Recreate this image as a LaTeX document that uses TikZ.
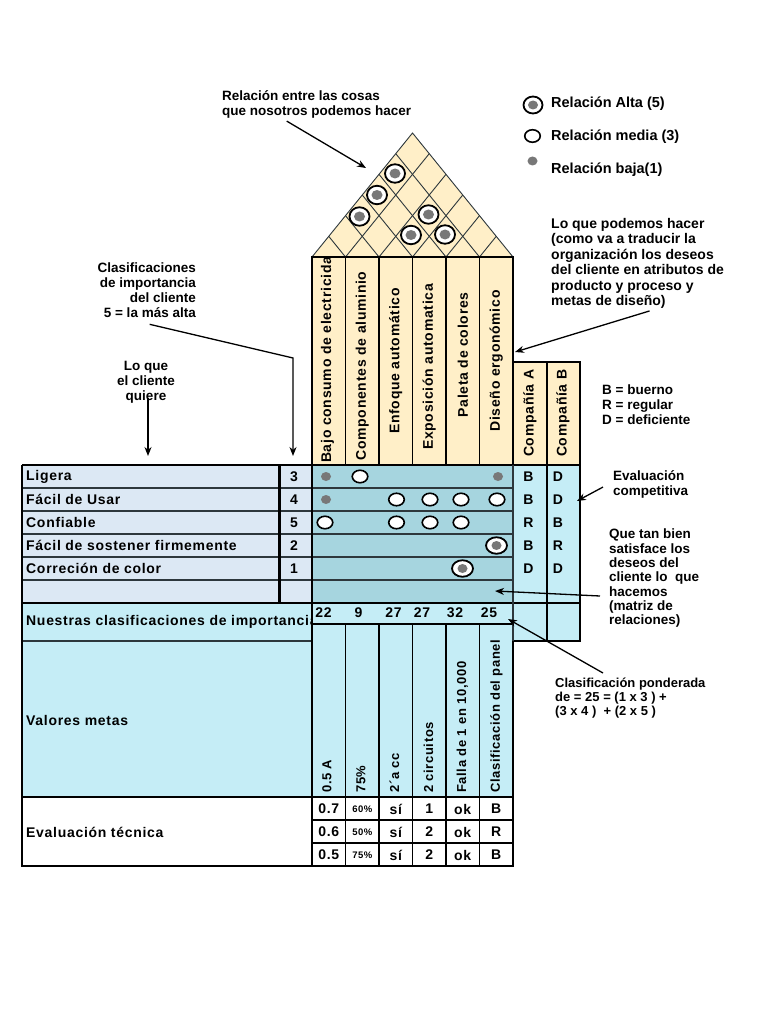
\documentclass[tikz,border=0pt]{standalone}
\usepackage{fontspec}
\setmainfont{Liberation Sans}
\newfontfamily\tabf[LetterSpace=5]{Liberation Sans}
\usetikzlibrary{shapes.geometric,arrows.meta}
\definecolor{roofc}{RGB}{255,239,200}
\definecolor{mtxc}{RGB}{166,213,223}
\definecolor{cyanc}{RGB}{197,237,246}
\definecolor{labc}{RGB}{220,232,244}
\definecolor{dotgray}{RGB}{120,120,120}
\definecolor{linec}{RGB}{45,55,60}
\begin{document}
\begin{tikzpicture}[x=1pt,y=-1pt,
  ann/.style={font=\bfseries\fontsize{13.5}{15}\selectfont, align=left, inner sep=0pt},
  leg/.style={font=\bfseries\fontsize{14.5}{16}\selectfont, inner sep=0pt, anchor=west},
  tab/.style={font=\tabf\bfseries\fontsize{14}{16}\selectfont, inner sep=0pt},
  vtab/.style={font=\tabf\bfseries\fontsize{13}{15}\selectfont, inner sep=0pt, rotate=90, anchor=west},
  small/.style={font=\tabf\bfseries\fontsize{9.5}{11}\selectfont, inner sep=0pt},
  roofline/.style={draw=linec, line width=0.9pt},
  grid/.style={draw=linec, line width=1.2pt},
  bold/.style={draw=black, line width=1.8pt},
  arr/.style={-{Stealth[length=9pt,width=7pt]}, line width=1.3pt, black},
  media/.style={ellipse, draw=black, line width=1.6pt, fill=white, minimum width=15.5pt, minimum height=12.5pt, inner sep=0pt},
  baja/.style={ellipse, fill=dotgray, minimum width=10pt, minimum height=9pt, inner sep=0pt},
  alta/.style={ellipse, draw=black, line width=1.8pt, fill=white, minimum width=21pt, minimum height=16.5pt, inner sep=0pt,
    path picture={\fill[dotgray] (path picture bounding box.center) ellipse [x radius=5pt, y radius=4.5pt];}},
  altaroof/.style={alta, minimum width=20pt, minimum height=18.5pt,
    path picture={\fill[dotgray] (path picture bounding box.center) ellipse [x radius=5.5pt, y radius=5pt];}},
]
\useasboundingbox (0,0) rectangle (768,1024);

% ---------------- roof ----------------
\fill[roofc] (312,257) -- (412.5,133) -- (513,257) -- cycle;
\foreach \k in {1,...,5} {
  \draw[roofline] ({312+33.5*\k},257) -- ({312+16.75*\k},{257-20.67*\k});
  \draw[roofline] ({312+33.5*\k},257) -- ({412.5+16.75*\k},{257-20.67*(6-\k)});
}
\draw[roofline] (312,257) -- (412.5,133) -- (513,257);

% ---------------- column headers ----------------
\foreach \i in {0,...,5} {
  \draw[fill=roofc, line width=1.3pt] ({312+33.5*\i},257) rectangle ++(33.5,208);
}
\begin{scope}
  \clip (312,257) rectangle (345.5,465);
  \node[tab, rotate=90, anchor=west] (h1) at (327.5,463) {Bajo consumo de electricidad};
\end{scope}
\node[tab, rotate=90] (h2) at (362.25,366) {Componentes de aluminio};
\node[tab, rotate=90] (h3) at (395.75,361) {Enfoque automático};
\node[tab, rotate=90] (h4) at (429.25,367) {Exposición automatica};
\node[tab, rotate=90] (h5) at (462.75,355) {Paleta de colores};
\node[tab, rotate=90] (h6) at (496.25,361) {Diseño ergonómico};

\draw[fill=roofc, line width=1.3pt] (513,362) rectangle (547,465);
\draw[fill=roofc, line width=1.3pt] (547,362) rectangle (580,465);
\node[tab, rotate=90, anchor=west] (ca) at (530,457) {Compañía A};
\node[tab, rotate=90, anchor=west] (cb) at (563,457) {Compañía B};

% ---------------- left table ----------------
\fill[labc] (22,465) rectangle (312,603);
\foreach \y in {488,511,534,557,580} {
  \draw[grid] (22,\y) -- (312,\y);
}
\node[tab, anchor=west] (w1) at (26,476.5) {Ligera};
\node[tab, anchor=west] (w2) at (26,499.5) {Fácil de Usar};
\node[tab, anchor=west] (w3) at (26,522.5) {Confiable};
\node[tab, anchor=west] (w4) at (26,545.5) {Fácil de sostener firmemente};
\node[tab, anchor=west] (w5) at (26,568.5) {Correción de color};
\node[tab] (n1) at (294,476.5) {3};
\node[tab] (n2) at (294,499.5) {4};
\node[tab] (n3) at (294,522.5) {5};
\node[tab] (n4) at (294,545.5) {2};
\node[tab] (n5) at (294,568.5) {1};
\draw[black, line width=2.8pt] (279.5,465) -- (279.5,603);

% ---------------- matrix ----------------
\fill[mtxc] (312,465) rectangle (513,603);
\foreach \y in {488,511,534,557,580} {
  \draw[grid] (312,\y) -- (513,\y);
}

% ---------------- company columns ----------------
\fill[cyanc] (513,465) rectangle (580,641);
\draw[line width=1.2pt] (513,465) rectangle (580,641);
\node[tab] (a1) at (528.5,476.5) {B};
\node[tab] (a2) at (528.5,499.5) {B};
\node[tab] (a3) at (528.5,522.5) {R};
\node[tab] (a4) at (528.5,545.5) {B};
\node[tab] (a5) at (528.5,568.5) {D};
\node[tab] (b1) at (558,476.5) {D};
\node[tab] (b2) at (558,499.5) {D};
\node[tab] (b3) at (558,522.5) {B};
\node[tab] (b4) at (558,545.5) {R};
\node[tab] (b5) at (558,568.5) {D};

% ---------------- our ratings ----------------
\fill[cyanc] (22,603) rectangle (312,641);
\node[tab, anchor=west] (nu) at (26,622) {Nuestras clasificaciones de importancia};
\fill[cyanc] (312,603) rectangle (513,624);
\draw[grid] (312,624) -- (513,624);
\node[tab] (s1) at (323.5,613) {22};
\node[tab] (s2) at (358.5,613) {9};
\node[tab] (s3) at (393.5,613) {27};
\node[tab] (s4) at (422,613) {27};
\node[tab] (s5) at (455,613) {32};
\node[tab] (s6) at (489,613) {25};

% ---------------- target values ----------------
\fill[cyanc] (22,641) rectangle (312,797);
\draw[grid] (22,641) -- (312,641);
\node[tab, anchor=west] (vm) at (26,720) {Valores metas};
\foreach \i in {0,...,5} {
  \draw[fill=cyanc, line width=1.3pt] ({312+33.5*\i},624) rectangle ++(33.5,173);
}
\node[vtab] (v1) at (327,793) {0.5 A};
\node[vtab] (v2) at (361,793) {75\%};
\node[vtab] (v3) at (394.5,793) {2´a cc};
\node[vtab] (v4) at (428.5,793) {2 circuitos};
\node[vtab] (v5) at (462.5,793) {Falla de 1 en 10,000};
\node[vtab] (v6) at (496.5,793) {Clasificación del panel};

% ---------------- technical evaluation ----------------
\draw[line width=1.5pt, fill=white] (22,797) rectangle (312,866);
\node[tab, anchor=west] (et) at (26,832) {Evaluación técnica};
\foreach \i in {0,...,5} {
  \foreach \r in {0,1,2} {
    \draw[line width=1.6pt, fill=white] ({312+33.5*\i},{797+23*\r}) rectangle ++(33.5,23);
  }
}
\node[tab] (t11) at (328.75,809) {0.7};
\node[small] (t12) at (362.25,809) {60\%};
\node[tab] (t13) at (395.75,809) {sí};
\node[tab] (t14) at (429.25,809) {1};
\node[tab] (t15) at (462.75,809) {ok};
\node[tab] (t16) at (496.25,809) {B};
\node[tab] (t21) at (328.75,832) {0.6};
\node[small] (t22) at (362.25,832) {50\%};
\node[tab] (t23) at (395.75,832) {sí};
\node[tab] (t24) at (429.25,832) {2};
\node[tab] (t25) at (462.75,832) {ok};
\node[tab] (t26) at (496.25,832) {R};
\node[tab] (t31) at (328.75,855) {0.5};
\node[small] (t32) at (362.25,855) {75\%};
\node[tab] (t33) at (395.75,855) {sí};
\node[tab] (t34) at (429.25,855) {2};
\node[tab] (t35) at (462.75,855) {ok};
\node[tab] (t36) at (496.25,855) {B};

% ---------------- strong lines ----------------
\draw[bold] (22,465) -- (580,465);
\draw[bold] (22,465) -- (22,866);
\draw[bold] (22,603) -- (580,603);
\draw[bold] (312,257) -- (312,866);
\draw[line width=1.3pt, linec] (513,465) -- (513,641);
\draw[black, line width=2.2pt] (547,362) -- (547,641);
\draw[line width=1.5pt] (22,866) -- (513,866);

% ---------------- relation symbols ----------------
\node[altaroof] (r15) at (395,173.5) {};
\node[altaroof] (r14) at (377,195) {};
\node[altaroof] (r13) at (359.5,216.5) {};
\node[altaroof] (r35) at (428.5,214.5) {};
\node[altaroof] (r34) at (411,235) {};
\node[altaroof] (r45) at (445,234.5) {};

\node[baja] (m11) at (326,476.5) {};
\node[media] (m12) at (360,476.5) {};
\node[baja] (m16) at (498,476.5) {};
\node[baja] (m21) at (326,499.5) {};
\node[media] (m23) at (396.5,499.5) {};
\node[media] (m24) at (430,499.5) {};
\node[media] (m25) at (461,499.5) {};
\node[media] (m26) at (497,499.5) {};
\node[media] (m31) at (325,522.5) {};
\node[media] (m33) at (396.5,522.5) {};
\node[media] (m34) at (430,522.5) {};
\node[media] (m35) at (461,522.5) {};
\node[alta] (m46) at (496.5,545.5) {};
\node[alta] (m55) at (462.5,568.5) {};

% ---------------- legend ----------------
\node[alta, minimum width=19pt, minimum height=17pt] (la) at (533,105) {};
\node[media] (lm) at (532.5,136) {};
\node[baja] (lb) at (532.5,161) {};
\node[leg] (lat) at (551,104) {Relación Alta (5)};
\node[leg] (lmt) at (551,137) {Relación media (3)};
\node[leg] (lbt) at (551,170) {Relación baja(1)};

% ---------------- annotations ----------------
\node[ann, anchor=north west] (rel) at (222,90) {Relación entre las cosas\\que nosotros podemos hacer};
\coordinate (relend) at (366,168);
\draw[arr] ([xshift=-30pt,yshift=-3pt]rel.south) -- (relend);

\node[ann, align=right, anchor=north east] (clas) at (196,263) {Clasificaciones\\de importancia\\del cliente\\5 = la más alta};
\coordinate (clasbend) at (293,358);
\coordinate (clasend) at (293,456);
\draw[arr] ([xshift=3pt,yshift=-6pt]clas.south) -- (clasbend) -- (clasend);

\node[ann, align=center, anchor=north] (lq) at (146,361) {Lo que\\el cliente\\quiere};
\coordinate (lqend) at (148,456);
\draw[arr] (lq.south -| lqend) ++(0,-5) -- (lqend);

\node[ann, font=\bfseries\fontsize{14}{15.5}\selectfont, anchor=north west] (lqp) at (551,218) {Lo que podemos hacer\\(como va a traducir la\\organización los deseos\\del cliente en atributos de\\producto y proceso y\\metas de diseño)};
\coordinate (lqpend) at (515,352);
\draw[arr] ([xshift=12pt,yshift=-2pt]lqp.south) -- (lqpend);

\node[ann, anchor=north west] (key) at (602,385) {B = buerno\\R = regular\\D = deficiente};

\node[ann, anchor=north west] (evc) at (613,470) {Evaluación\\competitiva};
\coordinate (evcend) at (577,501);
\draw[arr] ([xshift=-10pt,yshift=-3pt]evc.west) -- (evcend);

\node[ann, font=\bfseries\fontsize{13.5}{14.3}\selectfont, anchor=north west] (qtb) at (609,529) {Que tan bien\\satisface los\\deseos del\\cliente lo~~que\\hacemos\\(matriz de\\relaciones)};
\coordinate (qtbstart) at (600,596);
\coordinate (qtbend) at (495,591);
\draw[arr] (qtbstart) -- (qtbend);

\node[ann, font=\bfseries\fontsize{13}{14}\selectfont, anchor=north west] (cp) at (555,678) {Clasificación ponderada\\de = 25 = (1 x 3 ) +\\(3 x 4 )~~+ (2 x 5 )};
\coordinate (cpend) at (508,619);
\draw[arr] ([xshift=48pt,yshift=5pt]cp.north west) -- (cpend);
\end{tikzpicture}
\end{document}
